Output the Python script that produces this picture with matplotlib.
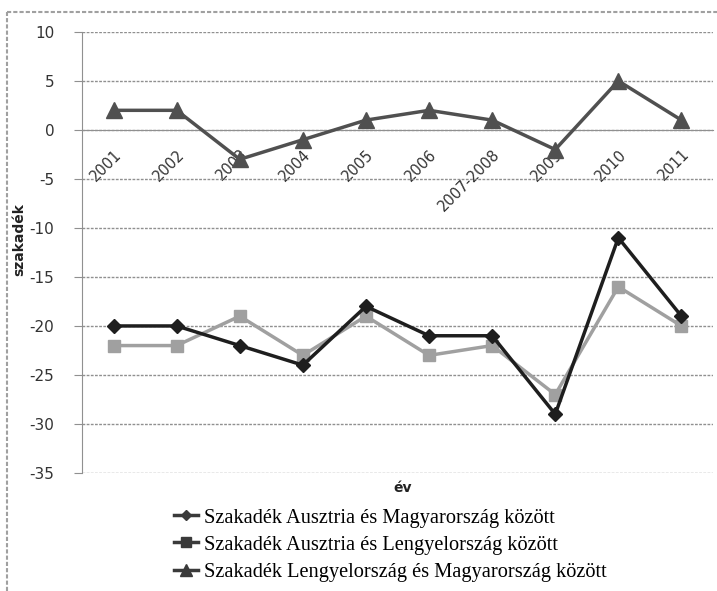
import numpy as np
import matplotlib
matplotlib.use('Agg')
import matplotlib.pyplot as plt
from matplotlib.lines import Line2D

plt.rcParams['axes.unicode_minus'] = False

# data
years = ['2001', '2002', '2003', '2004', '2005', '2006', '2007-2008', '2009', '2010', '2011']
aut_hun = [-20, -20, -22, -24, -18, -21, -21, -29, -11, -19]
aut_pol = [-22, -22, -19, -23, -19, -23, -22, -27, -16, -20]
pol_hun = [2, 2, -3, -1, 1, 2, 1, -2, 5, 1]
labels = ['Szakadék Ausztria és Magyarország között',
          'Szakadék Ausztria és Lengyelország között',
          'Szakadék Lengyelország és Magyarország között']

fig = plt.figure(figsize=(7.17, 5.91), dpi=100)
ax = fig.add_axes([0.1144, 0.1997, 0.88, 0.7463])

x = np.arange(len(years))
l1, = ax.plot(x, aut_hun, color='#1e1e1e', lw=2.5, marker='D', ms=7, zorder=4)
l2, = ax.plot(x, aut_pol, color='#a0a0a0', lw=2.5, marker='s', ms=9, zorder=3)
l3, = ax.plot(x, pol_hun, color='#505050', lw=2.5, marker='^', ms=11, zorder=3)

ax.set_xlim(-0.5, len(years) - 0.5)
ax.set_ylim(-35, 10)
ax.set_yticks(np.arange(-35, 11, 5))
ax.yaxis.grid(True, color='#909090', ls=(0, (2, 1)), lw=1)
ax.set_axisbelow(True)

# category axis crosses at zero
ax.spines['bottom'].set_position(('data', 0))
ax.spines['bottom'].set_color('#909090')
ax.spines['bottom'].set_linestyle((0, (2, 1)))
ax.spines['top'].set_visible(False)
ax.spines['right'].set_visible(False)
ax.spines['left'].set_color('#909090')
ax.spines['left'].set_linestyle((0, (2, 1)))
ax.set_xticks(x)
ax.set_xticklabels(years, rotation=45, ha='right', va='top', rotation_mode='anchor')
ax.tick_params(axis='x', length=0, pad=12, labelsize=10.5, labelcolor='#333333')
ax.tick_params(axis='y', length=6, color='#909090', pad=14, labelsize=11, labelcolor='#333333')

ax.set_ylabel('szakadék', fontweight='bold', fontsize=10, color='#222222')
ax.yaxis.set_label_coords(-0.089, 0.53)
fig.text(0.561, 0.175, 'év', fontweight='bold', fontsize=10, color='#222222', ha='center', va='center')

leg = fig.legend([l1, l2, l3], labels, loc='upper left', bbox_to_anchor=(0.242, 0.14),
                 frameon=False, prop={'family': 'Liberation Serif', 'size': 14.7},
                 handlelength=1.2, handletextpad=0.3, labelspacing=0.38, markerscale=0.75,
                 borderaxespad=0, borderpad=0)
for h in leg.legend_handles:
    h.set_color('#3a3a3a')
    h.set_markerfacecolor('#3a3a3a')
    h.set_markeredgecolor('#3a3a3a')

# outer chart frame (top and left edges visible)
fig.add_artist(Line2D([0.01, 1.0], [0.979, 0.979], transform=fig.transFigure,
                      color='#a0a0a0', lw=1.5, ls=(0, (2, 1))))
fig.add_artist(Line2D([0.01, 0.01], [0.0, 0.979], transform=fig.transFigure,
                      color='#a0a0a0', lw=1.5, ls=(0, (2, 1))))

fig.savefig('out.png', dpi=100)
